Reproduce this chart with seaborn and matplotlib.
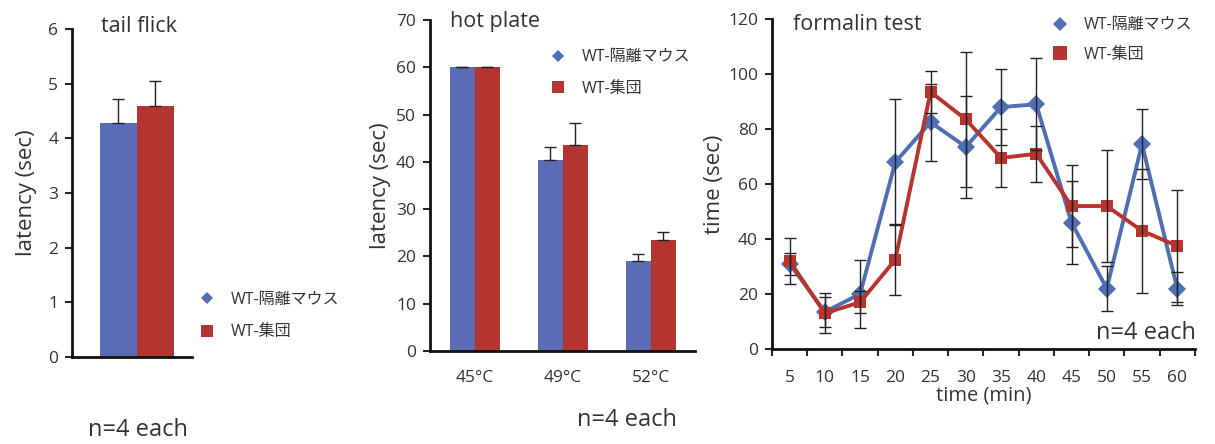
import numpy as np
import pandas as pd
import seaborn as sns
import matplotlib.pyplot as plt
from matplotlib.lines import Line2D
from matplotlib.ticker import MultipleLocator

# groups
groups = ['WT-隔離マウス', 'WT-集団']
colors = {'WT-隔離マウス': '#5a6db4', 'WT-集団': '#b4352f'}
line_colors = {'WT-隔離マウス': '#4f6eb4', 'WT-集団': '#b8342e'}

# tail flick
tail_mean = [4.28, 4.60]
tail_err = [0.44, 0.45]

# hot plate
hot_temps = ['45°C', '49°C', '52°C']
hot_iso = [60.0, 40.3, 19.0]
hot_iso_err = [0.1, 2.9, 1.6]
hot_grp = [60.0, 43.5, 23.5]
hot_grp_err = [0.1, 4.8, 1.7]

# formalin test
form_time = [5, 10, 15, 20, 25, 30, 35, 40, 45, 50, 55, 60]
form_iso = [31, 13.5, 20, 68, 82.5, 73.5, 88, 89, 46, 22, 74.5, 22]
form_iso_err = [4, 5.5, 12.5, 23, 14, 18.5, 13.8, 16.7, 15.2, 8.2, 12.7, 6]
form_grp = [32, 13, 17, 32.5, 93.5, 83.5, 69.5, 71, 52, 52, 43, 37.5]
form_grp_err = [8.3, 7.3, 4, 13, 7.5, 24.5, 10.5, 10.2, 15, 20.5, 22.5, 20.5]

sns.set_style('ticks')
plt.rcParams['font.family'] = ['Open Sans', 'Noto Sans CJK JP', 'DejaVu Sans']
plt.rcParams['axes.linewidth'] = 2
txt = '#333333'
tick_fs = 12.5
lab_fs = 16
title_fs = 15.5
n_fs = 17
leg_fs = 11.5

fig = plt.figure(figsize=(12.15, 4.44), dpi=100)
ax1 = fig.add_axes([0.0593, 0.196, 0.0988, 0.7387])
ax2 = fig.add_axes([0.3539, 0.2095, 0.218, 0.7455])
ax3 = fig.add_axes([0.6354, 0.214, 0.348, 0.743])


def style_axis(ax):
    sns.despine(ax=ax)
    ax.spines['left'].set_color('#111111')
    ax.spines['bottom'].set_color('#111111')
    ax.tick_params(axis='y', direction='out', length=5, width=1.5,
                   labelsize=tick_fs, labelcolor=txt, pad=5)


def bar_errors(ax, errs):
    # upward error bars on top of each bar container
    for cont, err in zip(ax.containers, errs):
        xs = [p.get_x() + p.get_width() / 2 for p in cont]
        ys = [p.get_height() for p in cont]
        ax.errorbar(xs, ys, yerr=[np.zeros(len(err)), err], fmt='none',
                    ecolor='#222222', elinewidth=1, capsize=4, capthick=1, zorder=5)


def legend_handles(blue_size, red_size):
    return [Line2D([], [], ls='none', marker='D', ms=blue_size, color=line_colors[groups[0]], mew=0),
            Line2D([], [], ls='none', marker='s', ms=red_size, color=line_colors[groups[1]], mew=0)]


# panel 1 - tail flick
df1 = pd.DataFrame({'test': ['tail flick'] * 2, 'group': groups, 'latency': tail_mean})
sns.barplot(data=df1, x='test', y='latency', hue='group', hue_order=groups, palette=colors,
            errorbar=None, saturation=1, width=0.8, legend=False, linewidth=0, ax=ax1)
bar_errors(ax1, [[e] for e in tail_err])
style_axis(ax1)
ax1.set_xlim(-0.70, 0.60)
ax1.set_ylim(0, 6)
ax1.set_yticks(range(0, 7))
ax1.set_xticks([])
ax1.set_xlabel('')
ax1.set_ylabel('latency (sec)', fontsize=lab_fs, color=txt, labelpad=8)
fig.text(101 / 1215, 1 - 27 / 444, 'tail flick', fontsize=title_fs, color=txt, va='center')
fig.text(138 / 1215, 1 - 430 / 444, 'n=4 each', fontsize=n_fs, color=txt, ha='center', va='center')
ax1.legend(handles=legend_handles(6, 9), labels=groups, loc='center left',
           bbox_to_anchor=(183 / 1215, 1 - 316 / 444), bbox_transform=fig.transFigure,
           frameon=False, fontsize=leg_fs, labelspacing=1.05, handletextpad=0.9, handlelength=1.2,
           labelcolor=txt)

# panel 2 - hot plate
df2 = pd.DataFrame({'temp': hot_temps * 2,
                    'group': [groups[0]] * 3 + [groups[1]] * 3,
                    'latency': hot_iso + hot_grp})
sns.barplot(data=df2, x='temp', y='latency', hue='group', hue_order=groups, palette=colors,
            errorbar=None, saturation=1, width=0.57, legend=False, linewidth=0, ax=ax2)
bar_errors(ax2, [hot_iso_err, hot_grp_err])
style_axis(ax2)
ax2.set_xlim(-0.51, 2.50)
ax2.set_ylim(0, 70)
ax2.set_yticks(range(0, 71, 10))
ax2.tick_params(axis='x', length=0, labelsize=tick_fs, labelcolor=txt, pad=14)
ax2.set_xlabel('')
ax2.set_ylabel('latency (sec)', fontsize=lab_fs, color=txt, labelpad=4)
fig.text(450 / 1215, 1 - 22 / 444, 'hot plate', fontsize=title_fs, color=txt, va='center')
fig.text(627 / 1215, 1 - 420 / 444, 'n=4 each', fontsize=n_fs, color=txt, ha='center', va='center')
ax2.legend(handles=legend_handles(6, 9), labels=groups, loc='center left',
           bbox_to_anchor=(534 / 1215, 1 - 73 / 444), bbox_transform=fig.transFigure,
           frameon=False, fontsize=leg_fs, labelspacing=0.95, handletextpad=0.9, handlelength=1.2,
           labelcolor=txt)

# panel 3 - formalin test
df3 = pd.DataFrame({'min': form_time * 2,
                    'group': [groups[0]] * 12 + [groups[1]] * 12,
                    'sec': form_iso + form_grp})
sns.lineplot(data=df3, x='min', y='sec', hue='group', hue_order=groups, palette=line_colors,
             style='group', markers={groups[0]: 'D', groups[1]: 's'}, dashes=False,
             linewidth=2.8, markersize=9, markeredgewidth=0, legend=False, ax=ax3)
ax3.errorbar(form_time, form_iso, yerr=form_iso_err, fmt='none', ecolor='#222222',
             elinewidth=1, capsize=4, capthick=1, zorder=5)
ax3.errorbar(form_time, form_grp, yerr=form_grp_err, fmt='none', ecolor='#222222',
             elinewidth=1, capsize=4, capthick=1, zorder=5)
style_axis(ax3)
ax3.set_xlim(2.5, 62.5)
ax3.set_ylim(0, 120)
ax3.set_yticks(range(0, 121, 20))
ax3.set_xticks(form_time)
ax3.xaxis.set_minor_locator(MultipleLocator(5, offset=2.5))
ax3.tick_params(axis='x', which='major', length=0, labelsize=tick_fs, labelcolor=txt, pad=15)
ax3.tick_params(axis='x', which='minor', direction='out', length=5, width=1.5)
ax3.set_xlabel('time (min)', fontsize=14.5, color=txt, labelpad=0)
ax3.set_ylabel('time (sec)', fontsize=lab_fs, color=txt, labelpad=2)
fig.text(793 / 1215, 1 - 24 / 444, 'formalin test', fontsize=title_fs, color=txt, va='center')
fig.text(1196 / 1215, 1 - 333 / 444, 'n=4 each', fontsize=n_fs, color=txt, ha='right', va='center')
ax3.legend(handles=legend_handles(7, 10), labels=groups, loc='center left',
           bbox_to_anchor=(1036 / 1215, 1 - 40 / 444), bbox_transform=fig.transFigure,
           frameon=False, fontsize=leg_fs, labelspacing=0.85, handletextpad=0.9, handlelength=1.2,
           labelcolor=txt)

fig.savefig('out.png', dpi=100)
